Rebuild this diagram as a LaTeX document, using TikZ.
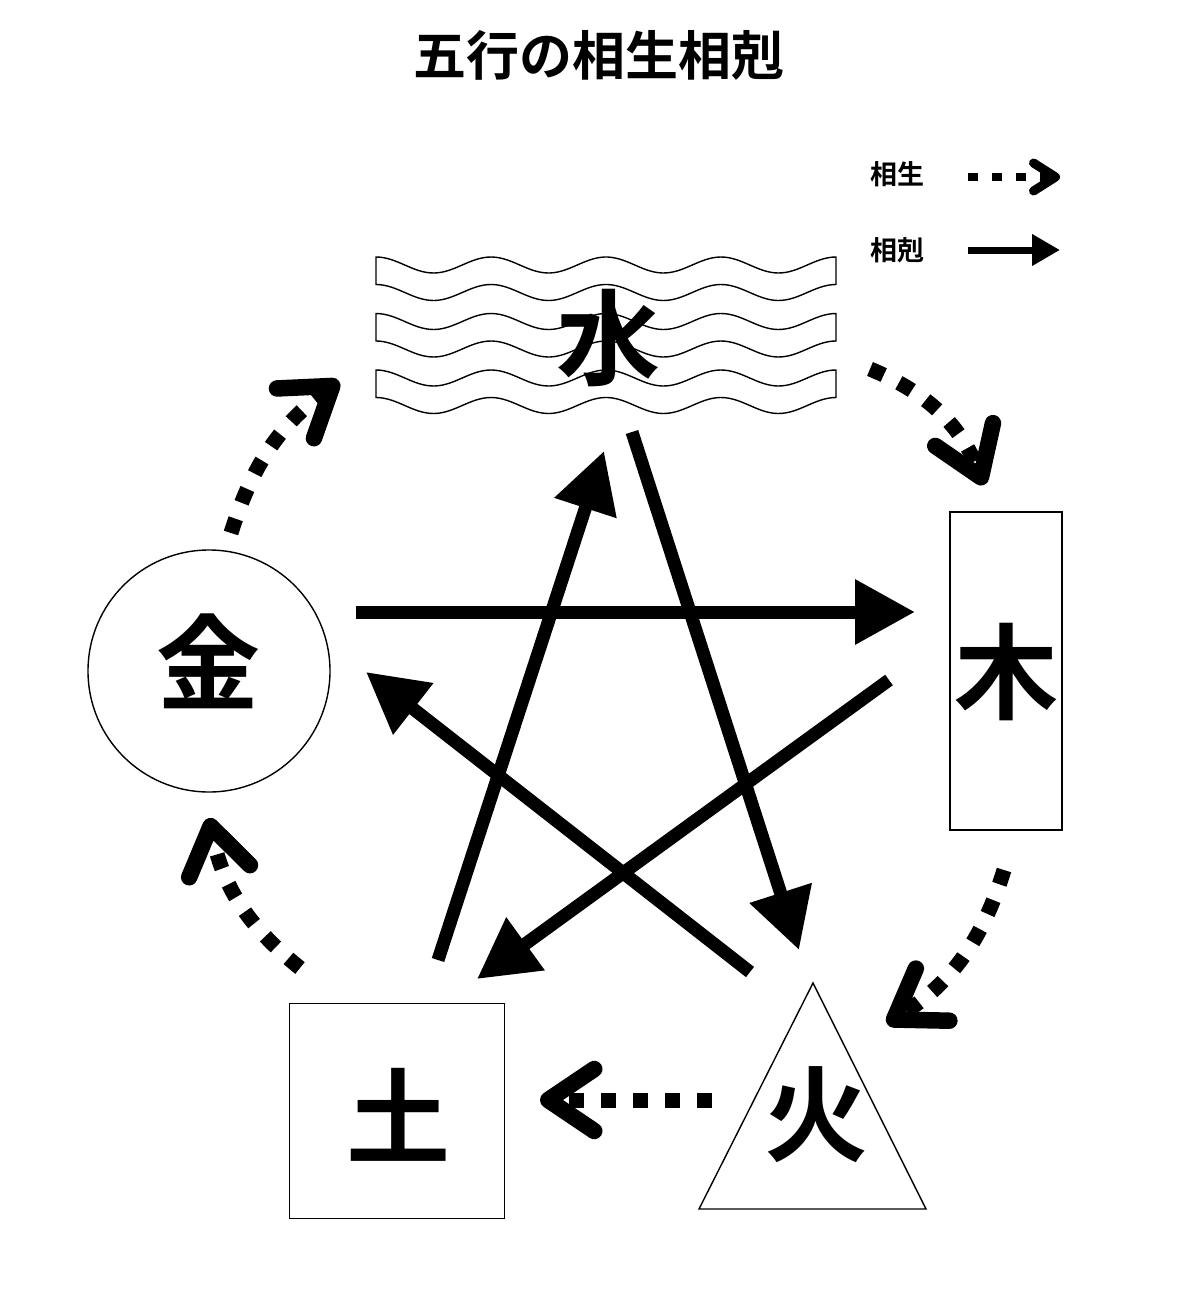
\documentclass[tikz,border=0pt]{standalone}
\usepackage{fontspec}
\newfontfamily\jpfont{Noto Sans CJK JP}[BoldFont={Noto Sans CJK JP Bold}]
\usetikzlibrary{arrows.meta,shapes.geometric}

\begin{document}
\begin{tikzpicture}[
    x=1pt, y=-1pt,
    elem/.style={draw, line width=1.4pt, inner sep=0pt},
    glyph/.style={font=\jpfont\bfseries\fontsize{104}{104}\selectfont, inner sep=0pt},
    legend/.style={font=\jpfont\bfseries\fontsize{27}{27}\selectfont, inner sep=0pt},
    ke/.style={line width=13pt, -{Triangle[length=60pt, width=62pt]}},
    sheng/.style={line width=15pt, dash pattern=on 15pt off 17pt,
        -{Straight Barb[length=46pt, width=62pt, line width=16.5pt, round]}}
]

\useasboundingbox (0,0) rectangle (1200,1303);

\node[font=\jpfont\bfseries\fontsize{53}{53}\selectfont] (title) at (599,55) {五行の相生相剋};

% legend
\node[legend] (lgsheng) at (897,174) {相生};
\node[legend] (lgke) at (897,250) {相剋};
\coordinate (lgs1) at (968,177);
\coordinate (lgs2) at (1060,177);
\coordinate (lgk1) at (968,250);
\coordinate (lgk2) at (1060,250);
\draw[line width=8pt, dash pattern=on 10pt off 14pt,
    -{Straight Barb[length=22pt, width=28pt, line width=9pt, round]}] (lgs1) -- (lgs2);
\draw[line width=7pt, -{Triangle[length=28pt, width=30pt]}] (lgk1) -- (lgk2);

% water waves
\foreach \yc in {265,321.5,378}
  \draw[line width=1.4pt]
    plot[domain=376:836, samples=120] (\x, {\yc-8*cos(3.1304*(\x-376))})
    -- plot[domain=836:376, samples=120] (\x, {\yc+27.5-8*cos(3.1304*(\x-376))})
    -- cycle;

% elements
\node[glyph] (water) at (608,338) {水};
\node[elem, rectangle, minimum width=112pt, minimum height=318pt] (woodbox) at (1006,671) {};
\node[glyph] (wood) at (1006,672) {木};
\node[elem, circle, minimum size=242pt] (metalbox) at (209,671) {};
\node[glyph] (metal) at (208,661) {金};
\node[elem, rectangle, minimum size=215pt] (earthbox) at (397,1111) {};
\node[glyph] (earth) at (398,1115) {土};
\coordinate (fire top) at (813,983);
\coordinate (fire left) at (699,1209);
\coordinate (fire right) at (926,1209);
\draw[line width=1.4pt] (fire top) -- (fire left) -- (fire right) -- cycle;
\node[glyph] (fire) at (816,1115) {火};

% sheng cycle (dotted)
\coordinate (wa1) at (870,369);  \coordinate (wa2) at (984,485);
\coordinate (wo1) at (1004,870); \coordinate (wo2) at (887,1024);
\coordinate (fi1) at (712,1100); \coordinate (fi2) at (540,1100);
\coordinate (ea1) at (300,968);  \coordinate (ea2) at (209,818);
\coordinate (me1) at (231,533);  \coordinate (me2) at (339,381);
\draw[sheng] (wa1) to[bend left=23] (wa2);
\draw[sheng] (wo1) to[bend left=20] (wo2);
\draw[sheng] (fi1) -- (fi2);
\draw[sheng] (ea1) to[bend left=20] (ea2);
\draw[sheng] (me1) to[bend left=18] (me2);

% ke star (solid)
\coordinate (k1) at (356,612); \coordinate (k2) at (915,612);
\coordinate (k3) at (889,680); \coordinate (k4) at (477,979);
\coordinate (k5) at (438,960); \coordinate (k6) at (604,451);
\coordinate (k7) at (632,432); \coordinate (k8) at (799,950);
\coordinate (k9) at (750,972); \coordinate (k10) at (366,672);
\draw[ke] (k1) -- (k2);
\draw[ke] (k3) -- (k4);
\draw[ke] (k5) -- (k6);
\draw[ke] (k7) -- (k8);
\draw[ke] (k9) -- (k10);

\end{tikzpicture}
\end{document}
